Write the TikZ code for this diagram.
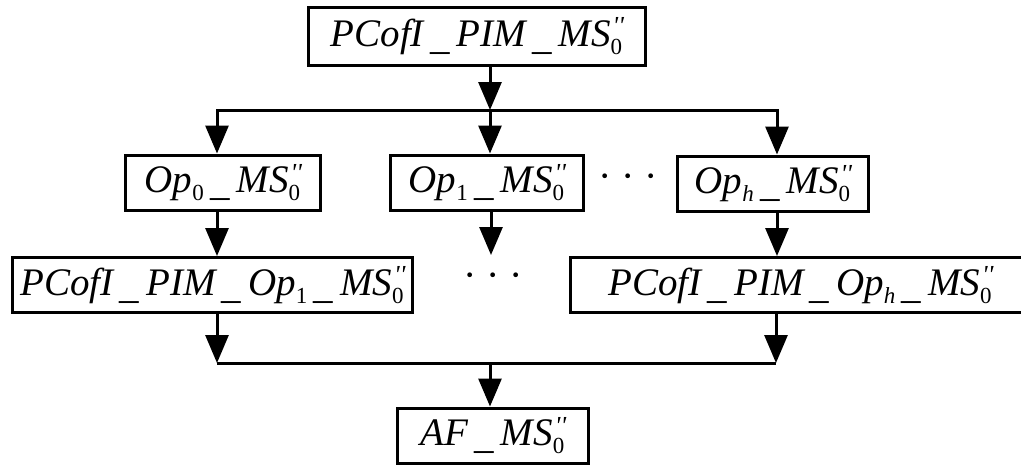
\documentclass[tikz,border=0pt]{standalone}
\usepackage{fontspec}
\setmainfont{Liberation Serif}[ItalicFont={Liberation Serif Italic}]
\newfontfamily\tmsit{Liberation Serif Italic}
\newfontfamily\tmsup{Liberation Serif}
\usetikzlibrary{arrows.meta}
\newcommand\lsub[1]{\raisebox{-0.2em}{\fontsize{23}{23}\selectfont #1}}
\newcommand\MSo{MS\makebox[0pt][l]{\hspace{2pt}\raisebox{0.3em}{\fontsize{26}{26}\selectfont\tmsit ''}}\lsub{\tmsup 0}}
\newcommand\us{\hspace{0.16em}\raisebox{-0.08em}{\_}\hspace{0.18em}}
\begin{document}
\begin{tikzpicture}[x=1pt,y=-1pt,
  box/.style={draw, line width=3pt, inner sep=0pt, minimum height=55pt, font=\fontsize{39}{44}\selectfont\tmsit},
  arr/.style={line width=3pt, line join=miter, -{Triangle[width=23pt,length=28pt]}},
  ln/.style={line width=3pt},
  dots/.style={inner sep=0pt, font=\fontsize{40}{44}\selectfont\tmsup}]
\useasboundingbox (0,0) rectangle (1021,466);
\fill[white] (0,0) rectangle (1021,466);
% boxes
\node[box, minimum width=337pt, minimum height=58pt] (top) at (476.5,36) {PCofI\us PIM\us\MSo};
\node[box, minimum width=195pt] (op0) at (222.5,182.5) {Op\lsub{\tmsup 0}\us\MSo};
\node[box, minimum width=193pt] (op1) at (486.5,182.5) {Op\lsub{\tmsup 1}\us\MSo};
\node[box, minimum width=191pt] (oph) at (772.5,183.5) {Op\lsub{h}\us\MSo};
\node[box, minimum width=400pt] (p1) at (212,285) {PCofI\us PIM\us Op\lsub{\tmsup 1}\us\MSo};
\node[box, minimum width=460pt] (ph) at (800,285) {PCofI\us PIM\us Op\lsub{h}\us\MSo};
\node[box, minimum width=191pt] (af) at (492.5,435.5) {AF\us\MSo};
% dots
\node[dots] (d1) at (628,182) {· · ·};
\node[dots] (d2) at (493,281) {· · ·};
% junctions
\coordinate (jL) at (217,110);
\coordinate (jM) at (490,110);
\coordinate (jR) at (777,110);
\coordinate (e1) at (491,255);
\coordinate (bL) at (217,363);
\coordinate (bM) at (490,363);
\coordinate (bR) at (776,363);
% connectors
\draw[arr] (top.south -| jM) -- (jM);
\draw[ln] (jL) -- (jR);
\draw[arr] (jM) -| (op0.north -| jL);
\draw[arr] (jM) -- (op1.north -| jM);
\draw[arr] (jM) -| (oph.north -| jR);
\draw[arr] (op0.south -| jL) -- (p1.north -| jL);
\draw[arr] (op1.south -| e1) -- (e1);
\draw[arr] (oph.south -| jR) -- (ph.north -| jR);
\draw[arr] (p1.south -| bL) -- (bL);
\draw[arr] (ph.south -| bR) -- (bR);
\draw[ln] (bL) -- (bR);
\draw[arr] (bM) -- (af.north -| bM);
\end{tikzpicture}
\end{document}
